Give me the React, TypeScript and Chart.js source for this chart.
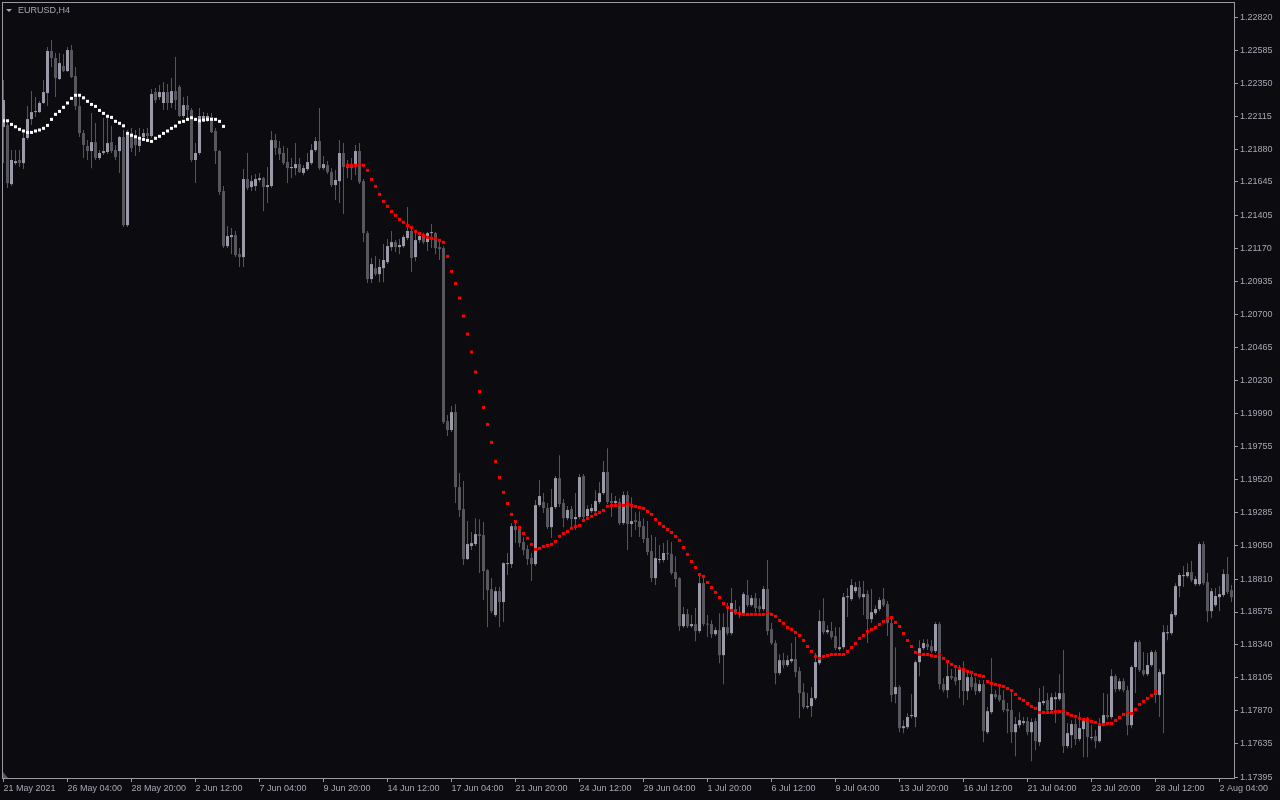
import React, { useEffect, useRef } from 'react';
import { Chart, registerables } from 'chart.js';

Chart.register(...registerables);

const chartTitle = 'EURUSD,H4';

const xTickBars = [0, 16, 32, 48, 64, 80, 96, 112, 128, 144, 160, 176, 192, 208, 224, 240, 256, 272, 288, 304];
const xTickLabels = [
  '21 May 2021', '26 May 04:00', '28 May 20:00', '2 Jun 12:00', '7 Jun 04:00', '9 Jun 20:00',
  '14 Jun 12:00', '17 Jun 04:00', '21 Jun 20:00', '24 Jun 12:00', '29 Jun 04:00', '1 Jul 20:00',
  '6 Jul 12:00', '9 Jul 04:00', '13 Jul 20:00', '16 Jul 12:00', '21 Jul 04:00', '23 Jul 20:00',
  '28 Jul 12:00', '2 Aug 04:00',
];
const priceTicks = [
  1.2282, 1.22585, 1.2235, 1.22115, 1.2188, 1.21645, 1.21405, 1.2117, 1.20935, 1.207, 1.20465, 1.2023,
  1.1999, 1.19755, 1.1952, 1.19285, 1.1905, 1.1881, 1.18575, 1.1834, 1.18105, 1.1787, 1.17635, 1.17395,
];

const opens = [
  1.22037, 1.22051, 1.21630, 1.21780, 1.21802, 1.21780, 1.21959, 1.22094, 1.22144, 1.22144,
  1.22209, 1.22280, 1.22580, 1.22530, 1.22380, 1.22473, 1.22437, 1.22587, 1.22401, 1.22187,
  1.21994, 1.21902, 1.21866, 1.21930, 1.21816, 1.21852, 1.21859, 1.21930, 1.21873, 1.21866,
  1.21966, 1.21337, 1.21994, 1.21966, 1.21902, 1.21966, 1.21994, 1.21973, 1.22287, 1.22251,
  1.22209, 1.22287, 1.22209, 1.22294, 1.22323, 1.22116, 1.22194, 1.22159, 1.21802, 1.21852,
  1.22087, 1.22080, 1.22109, 1.22009, 1.21866, 1.21580, 1.21187, 1.21252, 1.21266, 1.21130,
  1.21109, 1.21666, 1.21609, 1.21616, 1.21659, 1.21673, 1.21609, 1.21616, 1.21944, 1.21887,
  1.21852, 1.21787, 1.21744, 1.21744, 1.21773, 1.21709, 1.21737, 1.21780, 1.21873, 1.21937,
  1.21744, 1.21766, 1.21716, 1.21623, 1.21651, 1.21852, 1.21766, 1.21766, 1.21766, 1.21866,
  1.21651, 1.21280, 1.20952, 1.21030, 1.20987, 1.21030, 1.21073, 1.21180, 1.21216, 1.21180,
  1.21187, 1.21245, 1.21295, 1.21109, 1.21230, 1.21259, 1.21216, 1.21280, 1.21280, 1.21180,
  1.21173, 1.19938, 1.19874, 1.20002, 1.19467, 1.19310, 1.18953, 1.19046, 1.19060, 1.19131,
  1.19124, 1.18874, 1.18738, 1.18553, 1.18724, 1.18646, 1.18917, 1.18917, 1.19188, 1.19167,
  1.19074, 1.19024, 1.18960, 1.18917, 1.19338, 1.19360, 1.19317, 1.19181, 1.19324, 1.19531,
  1.19353, 1.19245, 1.19310, 1.19238, 1.19253, 1.19546, 1.19260, 1.19295, 1.19295, 1.19360,
  1.19424, 1.19574, 1.19367, 1.19353, 1.19360, 1.19210, 1.19410, 1.19203, 1.19231, 1.19224,
  1.19188, 1.19103, 1.19010, 1.18817, 1.18946, 1.18946, 1.18996, 1.18989, 1.18860, 1.18817,
  1.18474, 1.18560, 1.18474, 1.18489, 1.18439, 1.18781, 1.18489, 1.18489, 1.18417, 1.18446,
  1.18267, 1.18467, 1.18424, 1.18596, 1.18574, 1.18567, 1.18696, 1.18624, 1.18674, 1.18617,
  1.18596, 1.18739, 1.18453, 1.18353, 1.18139, 1.18231, 1.18196, 1.18224, 1.18239, 1.18153,
  1.18003, 1.17896, 1.17903, 1.17960, 1.18210, 1.18510, 1.18431, 1.18439, 1.18403, 1.18310,
  1.18324, 1.18681, 1.18667, 1.18724, 1.18753, 1.18681, 1.18703, 1.18524, 1.18567, 1.18596,
  1.18667, 1.18631, 1.18496, 1.17989, 1.18039, 1.17746, 1.17753, 1.17832, 1.17825, 1.18217,
  1.18317, 1.18346, 1.18331, 1.18296, 1.18489, 1.18060, 1.18017, 1.18117, 1.18110, 1.18089,
  1.18174, 1.18010, 1.18110, 1.18067, 1.18010, 1.18060, 1.17717, 1.17860, 1.17989, 1.17982,
  1.17946, 1.17882, 1.17875, 1.17717, 1.17767, 1.17782, 1.17796, 1.17717, 1.17796, 1.17646,
  1.17925, 1.17946, 1.17875, 1.17953, 1.17953, 1.17996, 1.17618, 1.17696, 1.17775, 1.17668,
  1.17739, 1.17796, 1.17675, 1.17689, 1.17653, 1.17775, 1.17839, 1.17825, 1.18117, 1.18024,
  1.18081, 1.18017, 1.17767, 1.18182, 1.18360, 1.18160, 1.18131, 1.18196, 1.18289, 1.17982,
  1.18131, 1.18424, 1.18424, 1.18553, 1.18760, 1.18831, 1.18831, 1.18860, 1.18774, 1.18774,
  1.19060, 1.18789, 1.18581, 1.18624, 1.18681, 1.18696, 1.18846, 1.18731,
];

const highs = [
  1.22373, 1.22087, 1.21873, 1.21873, 1.21873, 1.21994, 1.22187, 1.22294, 1.22251, 1.22223,
  1.22373, 1.22608, 1.22658, 1.22566, 1.22566, 1.22558, 1.22608, 1.22623, 1.22466, 1.22251,
  1.22016, 1.21944, 1.22137, 1.22066, 1.21873, 1.22101, 1.22101, 1.22044, 1.21909, 1.21973,
  1.22016, 1.22016, 1.22030, 1.22016, 1.22030, 1.22023, 1.22030, 1.22309, 1.22316, 1.22337,
  1.22359, 1.22344, 1.22387, 1.22537, 1.22337, 1.22251, 1.22259, 1.22173, 1.21923, 1.22173,
  1.22144, 1.22137, 1.22137, 1.22030, 1.21873, 1.21616, 1.21330, 1.21316, 1.21295, 1.21173,
  1.21737, 1.21852, 1.21694, 1.21702, 1.21709, 1.21680, 1.21752, 1.22009, 1.21987, 1.21937,
  1.21902, 1.21887, 1.21816, 1.21923, 1.21816, 1.21766, 1.21852, 1.21916, 1.21966, 1.22173,
  1.21830, 1.21794, 1.21744, 1.21730, 1.21944, 1.21923, 1.21802, 1.21816, 1.21909, 1.21923,
  1.21666, 1.21295, 1.21102, 1.21116, 1.21095, 1.21202, 1.21238, 1.21295, 1.21230, 1.21238,
  1.21266, 1.21466, 1.21316, 1.21288, 1.21288, 1.21280, 1.21288, 1.21345, 1.21288, 1.21216,
  1.21187, 1.19981, 1.20045, 1.20059, 1.19567, 1.19510, 1.19224, 1.19146, 1.19245, 1.19238,
  1.19217, 1.18880, 1.18817, 1.18753, 1.18753, 1.18931, 1.18996, 1.19210, 1.19210, 1.19181,
  1.19110, 1.19053, 1.18996, 1.19374, 1.19517, 1.19424, 1.19353, 1.19453, 1.19546, 1.19695,
  1.19381, 1.19331, 1.19331, 1.19424, 1.19560, 1.19560, 1.19338, 1.19346, 1.19445, 1.19503,
  1.19653, 1.19745, 1.19424, 1.19403, 1.19388, 1.19438, 1.19438, 1.19395, 1.19288, 1.19295,
  1.19245, 1.19224, 1.19124, 1.19110, 1.19053, 1.19067, 1.19088, 1.19074, 1.18974, 1.18824,
  1.18610, 1.18596, 1.18553, 1.18603, 1.18853, 1.18817, 1.18553, 1.18517, 1.18467, 1.18567,
  1.18567, 1.18639, 1.18746, 1.18660, 1.18617, 1.18717, 1.18803, 1.18696, 1.18710, 1.18674,
  1.18760, 1.18946, 1.18496, 1.18374, 1.18274, 1.18282, 1.18267, 1.18353, 1.18396, 1.18182,
  1.18067, 1.17996, 1.18039, 1.18282, 1.18589, 1.18674, 1.18481, 1.18503, 1.18467, 1.18467,
  1.18710, 1.18746, 1.18810, 1.18789, 1.18796, 1.18796, 1.18731, 1.18739, 1.18624, 1.18681,
  1.18746, 1.18653, 1.18539, 1.18324, 1.18053, 1.17803, 1.17853, 1.17989, 1.18231, 1.18374,
  1.18381, 1.18381, 1.18374, 1.18503, 1.18503, 1.18103, 1.18217, 1.18167, 1.18174, 1.18196,
  1.18224, 1.18160, 1.18139, 1.18110, 1.18089, 1.18089, 1.17896, 1.18246, 1.18017, 1.18039,
  1.18017, 1.17925, 1.18003, 1.17825, 1.17860, 1.17825, 1.17825, 1.17817, 1.17817, 1.18032,
  1.18046, 1.17996, 1.17996, 1.18003, 1.18131, 1.18303, 1.17782, 1.17803, 1.17817, 1.17860,
  1.17817, 1.17825, 1.17767, 1.17732, 1.17817, 1.17996, 1.17989, 1.18167, 1.18131, 1.18103,
  1.18103, 1.18046, 1.18196, 1.18374, 1.18374, 1.18289, 1.18282, 1.18303, 1.18303, 1.18167,
  1.18481, 1.18481, 1.18581, 1.18781, 1.18853, 1.18903, 1.18924, 1.18939, 1.18831, 1.19074,
  1.19081, 1.18853, 1.18746, 1.18746, 1.18760, 1.18881, 1.18967, 1.18767,
];

const lows = [
  1.21780, 1.21602, 1.21616, 1.21766, 1.21752, 1.21737, 1.21944, 1.22051, 1.22109, 1.22137,
  1.22201, 1.22187, 1.22466, 1.22251, 1.22373, 1.22430, 1.22430, 1.22387, 1.22159, 1.21966,
  1.21816, 1.21802, 1.21744, 1.21802, 1.21802, 1.21837, 1.21844, 1.21852, 1.21802, 1.21709,
  1.21323, 1.21323, 1.21859, 1.21830, 1.21859, 1.21944, 1.21944, 1.21959, 1.22209, 1.22230,
  1.22159, 1.22159, 1.22173, 1.22159, 1.22109, 1.22101, 1.22101, 1.21787, 1.21637, 1.21837,
  1.22073, 1.22073, 1.21994, 1.21773, 1.21552, 1.21173, 1.21173, 1.21130, 1.21109, 1.21038,
  1.21038, 1.21587, 1.21580, 1.21580, 1.21644, 1.21437, 1.21495, 1.21602, 1.21837, 1.21802,
  1.21766, 1.21637, 1.21673, 1.21694, 1.21709, 1.21694, 1.21723, 1.21766, 1.21859, 1.21730,
  1.21730, 1.21702, 1.21609, 1.21516, 1.21495, 1.21416, 1.21673, 1.21659, 1.21694, 1.21630,
  1.21216, 1.20923, 1.20923, 1.20973, 1.20930, 1.20930, 1.21059, 1.21152, 1.21145, 1.21130,
  1.21173, 1.21230, 1.21002, 1.21080, 1.21209, 1.21202, 1.21152, 1.21173, 1.21130, 1.21088,
  1.19917, 1.19831, 1.19860, 1.19353, 1.19253, 1.18910, 1.18946, 1.19017, 1.19046, 1.18853,
  1.18660, 1.18467, 1.18567, 1.18539, 1.18467, 1.18503, 1.18839, 1.18889, 1.19067, 1.19038,
  1.18981, 1.18910, 1.18796, 1.18903, 1.19324, 1.19281, 1.19167, 1.19103, 1.19310, 1.19324,
  1.19181, 1.19231, 1.19181, 1.19160, 1.19238, 1.19231, 1.19245, 1.19281, 1.19281, 1.19346,
  1.19410, 1.19346, 1.19253, 1.19324, 1.19196, 1.19196, 1.19017, 1.19110, 1.19160, 1.19110,
  1.19067, 1.18981, 1.18789, 1.18767, 1.18924, 1.18931, 1.18946, 1.18839, 1.18753, 1.18439,
  1.18460, 1.18460, 1.18460, 1.18367, 1.18424, 1.18474, 1.18396, 1.18389, 1.18403, 1.18210,
  1.18060, 1.18410, 1.18410, 1.18553, 1.18531, 1.18553, 1.18610, 1.18610, 1.18574, 1.18574,
  1.18581, 1.18410, 1.18339, 1.18060, 1.18124, 1.18174, 1.18182, 1.18210, 1.18110, 1.17817,
  1.17882, 1.17882, 1.17825, 1.17946, 1.18196, 1.18417, 1.18417, 1.18381, 1.18303, 1.18296,
  1.18310, 1.18539, 1.18653, 1.18710, 1.18667, 1.18553, 1.18353, 1.18496, 1.18553, 1.18581,
  1.18610, 1.18403, 1.17932, 1.17924, 1.17717, 1.17710, 1.17739, 1.17817, 1.17753, 1.18117,
  1.18303, 1.18303, 1.18282, 1.18282, 1.18024, 1.18003, 1.17960, 1.18089, 1.18053, 1.17960,
  1.17910, 1.17946, 1.18017, 1.17982, 1.17996, 1.17646, 1.17703, 1.17846, 1.17953, 1.17932,
  1.17860, 1.17710, 1.17639, 1.17546, 1.17746, 1.17767, 1.17696, 1.17510, 1.17589, 1.17618,
  1.17910, 1.17860, 1.17860, 1.17782, 1.17939, 1.17568, 1.17603, 1.17603, 1.17625, 1.17653,
  1.17539, 1.17539, 1.17660, 1.17603, 1.17639, 1.17760, 1.17810, 1.17810, 1.18003, 1.18010,
  1.18003, 1.17696, 1.17746, 1.17996, 1.18146, 1.18117, 1.18117, 1.18182, 1.17925, 1.17825,
  1.17710, 1.18374, 1.18410, 1.18539, 1.18681, 1.18753, 1.18817, 1.18789, 1.18760, 1.18760,
  1.18767, 1.18503, 1.18531, 1.18610, 1.18581, 1.18681, 1.18703, 1.18646,
];

const closes = [
  1.22230, 1.21637, 1.21802, 1.21794, 1.21780, 1.21959, 1.22094, 1.22144, 1.22148, 1.22209,
  1.22287, 1.22580, 1.22530, 1.22387, 1.22494, 1.22437, 1.22587, 1.22394, 1.22187, 1.21994,
  1.21909, 1.21866, 1.21930, 1.21816, 1.21852, 1.21866, 1.21923, 1.21866, 1.21823, 1.21966,
  1.21337, 1.21994, 1.21887, 1.21909, 1.21944, 1.21994, 1.21973, 1.22273, 1.22230, 1.22287,
  1.22287, 1.22209, 1.22294, 1.22230, 1.22116, 1.22194, 1.22159, 1.21802, 1.21852, 1.22116,
  1.22116, 1.22116, 1.22001, 1.21866, 1.21573, 1.21187, 1.21259, 1.21266, 1.21123, 1.21109,
  1.21666, 1.21602, 1.21651, 1.21666, 1.21673, 1.21609, 1.21623, 1.21944, 1.21887, 1.21844,
  1.21780, 1.21744, 1.21752, 1.21773, 1.21716, 1.21744, 1.21787, 1.21873, 1.21937, 1.21744,
  1.21773, 1.21716, 1.21623, 1.21659, 1.21852, 1.21752, 1.21744, 1.21744, 1.21866, 1.21644,
  1.21280, 1.20952, 1.21059, 1.20987, 1.21038, 1.21088, 1.21187, 1.21216, 1.21180, 1.21195,
  1.21252, 1.21295, 1.21102, 1.21230, 1.21259, 1.21216, 1.21280, 1.21284, 1.21173, 1.21166,
  1.19931, 1.19874, 1.20002, 1.19467, 1.19303, 1.18953, 1.19060, 1.19067, 1.19131, 1.19117,
  1.18867, 1.18731, 1.18581, 1.18724, 1.18646, 1.18924, 1.18924, 1.19188, 1.19160, 1.19067,
  1.19017, 1.18953, 1.18917, 1.19338, 1.19403, 1.19317, 1.19181, 1.19324, 1.19531, 1.19346,
  1.19245, 1.19303, 1.19238, 1.19253, 1.19538, 1.19253, 1.19310, 1.19317, 1.19367, 1.19424,
  1.19574, 1.19360, 1.19353, 1.19367, 1.19210, 1.19410, 1.19203, 1.19224, 1.19217, 1.19181,
  1.19096, 1.19003, 1.18817, 1.18960, 1.18953, 1.18996, 1.18989, 1.18853, 1.18810, 1.18474,
  1.18560, 1.18474, 1.18489, 1.18439, 1.18781, 1.18489, 1.18485, 1.18417, 1.18446, 1.18267,
  1.18467, 1.18424, 1.18639, 1.18567, 1.18553, 1.18703, 1.18624, 1.18674, 1.18603, 1.18596,
  1.18739, 1.18439, 1.18353, 1.18139, 1.18231, 1.18196, 1.18231, 1.18239, 1.18146, 1.17996,
  1.17896, 1.17903, 1.17960, 1.18217, 1.18510, 1.18431, 1.18446, 1.18396, 1.18317, 1.18324,
  1.18681, 1.18685, 1.18767, 1.18753, 1.18681, 1.18703, 1.18524, 1.18574, 1.18596, 1.18660,
  1.18624, 1.18496, 1.17982, 1.18039, 1.17746, 1.17760, 1.17825, 1.17839, 1.18217, 1.18317,
  1.18353, 1.18324, 1.18296, 1.18489, 1.18060, 1.18017, 1.18117, 1.18103, 1.18081, 1.18174,
  1.18010, 1.18110, 1.18039, 1.18010, 1.18060, 1.17725, 1.17867, 1.17989, 1.17967, 1.17946,
  1.17875, 1.17867, 1.17717, 1.17775, 1.17803, 1.17796, 1.17717, 1.17789, 1.17653, 1.17932,
  1.17939, 1.17875, 1.17967, 1.17967, 1.17996, 1.17618, 1.17710, 1.17775, 1.17668, 1.17746,
  1.17796, 1.17682, 1.17682, 1.17653, 1.17775, 1.17839, 1.17825, 1.18117, 1.18024, 1.18081,
  1.18017, 1.17767, 1.18182, 1.18360, 1.18160, 1.18131, 1.18196, 1.18289, 1.17982, 1.18146,
  1.18431, 1.18428, 1.18560, 1.18760, 1.18839, 1.18839, 1.18860, 1.18803, 1.18810, 1.19060,
  1.18781, 1.18581, 1.18724, 1.18689, 1.18703, 1.18846, 1.18717, 1.18681,
];

const whiteDotsStart = 0;
const whiteDots = [
  1.22082, 1.22082, 1.22056, 1.22039, 1.22021, 1.22009, 1.21999, 1.21999, 1.22009, 1.22016,
  1.22028, 1.22049, 1.22092, 1.22128, 1.22149, 1.22178, 1.22209, 1.22242, 1.22264, 1.22264,
  1.22246, 1.22221, 1.22199, 1.22185, 1.22156, 1.22135, 1.22114, 1.22106, 1.22078, 1.22064,
  1.22046, 1.21992, 1.21978, 1.21968, 1.21957, 1.21949, 1.21942, 1.21935, 1.21957, 1.21971,
  1.21992, 1.22009, 1.22028, 1.22044, 1.22071, 1.22078, 1.22092, 1.22104, 1.22092, 1.22082,
  1.22087, 1.22092, 1.22092, 1.22092, 1.22078, 1.22042,
];

const redDotsStart = 86;
const redDots = [
  1.21764, 1.21764, 1.21764, 1.21771, 1.21764, 1.21728, 1.21664, 1.21614, 1.21557, 1.21507,
  1.21471, 1.21435, 1.21407, 1.21378, 1.21357, 1.21335, 1.21321, 1.21293, 1.21278, 1.21264,
  1.21250, 1.21243, 1.21243, 1.21228, 1.21214, 1.21114, 1.21007, 1.20921, 1.20816, 1.20688,
  1.20559, 1.20431, 1.20288, 1.20150, 1.20036, 1.19914, 1.19786, 1.19650, 1.19536, 1.19429,
  1.19350, 1.19272, 1.19222, 1.19179, 1.19136, 1.19101, 1.19058, 1.19022, 1.19029, 1.19043,
  1.19051, 1.19058, 1.19079, 1.19115, 1.19136, 1.19150, 1.19172, 1.19186, 1.19193, 1.19229,
  1.19243, 1.19258, 1.19272, 1.19286, 1.19300, 1.19329, 1.19336, 1.19336, 1.19343, 1.19336,
  1.19350, 1.19336, 1.19329, 1.19322, 1.19315, 1.19293, 1.19272, 1.19236, 1.19208, 1.19186,
  1.19165, 1.19143, 1.19115, 1.19086, 1.19036, 1.18986, 1.18936, 1.18893, 1.18843, 1.18829,
  1.18786, 1.18750, 1.18715, 1.18679, 1.18636, 1.18608, 1.18586, 1.18572, 1.18565, 1.18558,
  1.18558, 1.18558, 1.18558, 1.18558, 1.18558, 1.18572, 1.18558, 1.18544, 1.18515, 1.18494,
  1.18465, 1.18451, 1.18429, 1.18408, 1.18372, 1.18329, 1.18294, 1.18258, 1.18244, 1.18258,
  1.18265, 1.18272, 1.18272, 1.18272, 1.18272, 1.18294, 1.18322, 1.18351, 1.18387, 1.18408,
  1.18437, 1.18451, 1.18465, 1.18486, 1.18508, 1.18529, 1.18536, 1.18501, 1.18472, 1.18422,
  1.18372, 1.18329, 1.18287, 1.18272, 1.18272, 1.18272, 1.18265, 1.18258, 1.18272, 1.18244,
  1.18222, 1.18201, 1.18186, 1.18172, 1.18165, 1.18151, 1.18144, 1.18129, 1.18122, 1.18115,
  1.18079, 1.18065, 1.18058, 1.18051, 1.18044, 1.18029, 1.18015, 1.17987, 1.17958, 1.17944,
  1.17922, 1.17901, 1.17887, 1.17858, 1.17858, 1.17858, 1.17858, 1.17865, 1.17865, 1.17872,
  1.17851, 1.17837, 1.17830, 1.17815, 1.17808, 1.17808, 1.17794, 1.17787, 1.17772, 1.17772,
  1.17780, 1.17780, 1.17801, 1.17822, 1.17844, 1.17858, 1.17851, 1.17880, 1.17915, 1.17937,
  1.17958, 1.17980, 1.18008,
];

const BG = '#0b0b10';
const AXIS = '#9a9aa4';
const TEXT = '#a8a8b6';
const BULL = '#9a9aa8';
const BEAR = '#57575e';
const WICK = '#55555c';
const FONT = '"Liberation Sans", Arial, sans-serif';

const framePlugin = {
  id: 'mtFrame',
  afterDatasetsDraw(chart: any) {
    const { ctx, chartArea: a } = chart;
    ctx.save();
    ctx.strokeStyle = AXIS;
    ctx.lineWidth = 1;
    ctx.strokeRect(
      Math.round(a.left) + 0.5,
      Math.round(a.top) + 0.5,
      Math.round(a.right - a.left),
      Math.round(a.bottom - a.top)
    );
    ctx.restore();
  },
};

export default function App() {
  const canvasRef = useRef<HTMLCanvasElement | null>(null);

  useEffect(() => {
    const canvas = canvasRef.current;
    if (!canvas) return;
    const idx = opens.map((_, i) => i);
    const wickData = idx.map((i) => ({ x: i, y: [lows[i], highs[i]] }));
    const bodyData = idx.map((i) => ({ x: i, y: [opens[i], closes[i]] }));
    const bodyColors = idx.map((i) => (closes[i] >= opens[i] ? BULL : BEAR));
    const whitePts = whiteDots.map((v, i) => ({ x: whiteDotsStart + i, y: v }));
    const redPts = redDots.map((v, i) => ({ x: redDotsStart + i, y: v }));

    const dotStyle = {
      showLine: false,
      pointStyle: 'rect',
      pointRadius: 2.13,
      pointHoverRadius: 2.13,
      pointBorderWidth: 0,
      borderWidth: 0,
      order: 0,
    };

    const chart = new Chart(canvas, {
      type: 'bar',
      data: {
        datasets: [
          { ...dotStyle, type: 'line', data: whitePts, pointBackgroundColor: '#ffffff', borderColor: '#ffffff', backgroundColor: '#ffffff' } as any,
          { ...dotStyle, type: 'line', data: redPts, pointBackgroundColor: '#ff0000', borderColor: '#ff0000', backgroundColor: '#ff0000' } as any,
          {
            type: 'bar', data: bodyData as any, backgroundColor: bodyColors, barThickness: 3,
            grouped: false, borderWidth: 0, inflateAmount: 0, minBarLength: 1, order: 1,
          } as any,
          {
            type: 'bar', data: wickData as any, backgroundColor: WICK, barThickness: 1,
            grouped: false, borderWidth: 0, inflateAmount: 0, minBarLength: 1, order: 2,
          } as any,
        ],
      },
      options: {
        responsive: false,
        animation: false,
        devicePixelRatio: 1,
        events: [],
        layout: { padding: { left: 2, top: 2, right: 0, bottom: 0 }, autoPadding: false },
        plugins: { legend: { display: false }, tooltip: { enabled: false }, title: { display: false } },
        scales: {
          x: {
            type: 'linear',
            position: 'bottom',
            min: -0.375,
            max: 307.625,
            offset: false,
            bounds: 'data',
            grid: { display: true, drawOnChartArea: false, drawTicks: true, tickLength: 4, color: AXIS, offset: false, lineWidth: 1 },
            border: { display: false },
            ticks: {
              autoSkip: false, maxRotation: 0, minRotation: 0, align: 'start', padding: 1,
              color: TEXT, font: { family: FONT, size: 9 },
              callback: (_v: any, i: number) => xTickLabels[i],
            },
            afterBuildTicks: (s: any) => { s.ticks = xTickBars.map((v) => ({ value: v })); },
            afterFit: (s: any) => { s.height = 22; s.paddingLeft = 0; s.paddingRight = 0; },
          } as any,
          y: {
            type: 'linear',
            position: 'right',
            min: 1.1739,
            max: 1.2293,
            bounds: 'data',
            grid: { display: true, drawOnChartArea: false, drawTicks: true, tickLength: 4, color: AXIS, lineWidth: 1 },
            border: { display: false },
            ticks: {
              autoSkip: false, padding: 2, color: TEXT, font: { family: FONT, size: 9 },
              callback: (_v: any, i: number) => priceTicks[i].toFixed(5),
            },
            afterBuildTicks: (s: any) => { s.ticks = priceTicks.map((v) => ({ value: v })); },
            afterFit: (s: any) => { s.width = 46; s.paddingTop = 0; s.paddingBottom = 0; },
          } as any,
        },
      } as any,
      plugins: [framePlugin],
    });
    return () => chart.destroy();
  }, []);

  return (
    <div style={{ position: 'fixed', left: 0, top: 0, width: 1280, height: 800, background: BG, overflow: 'hidden' }}>
      <canvas ref={canvasRef} width={1280} height={800} style={{ display: 'block', width: 1280, height: 800 }} />
      <div
        style={{
          position: 'absolute', left: 6, top: 9, width: 0, height: 0,
          borderLeft: '3px solid transparent', borderRight: '3px solid transparent', borderTop: `3px solid ${TEXT}`,
        }}
      />
      <div
        style={{
          position: 'absolute', left: 18, top: 6, fontFamily: FONT, fontSize: 9, lineHeight: '9px',
          color: TEXT, whiteSpace: 'nowrap',
        }}
      >
        {chartTitle}
      </div>
      <div
        style={{
          position: 'absolute', left: 3, top: 772, width: 0, height: 0,
          borderBottom: '6px solid #5a5a62', borderRight: '5px solid transparent',
        }}
      />
    </div>
  );
}
